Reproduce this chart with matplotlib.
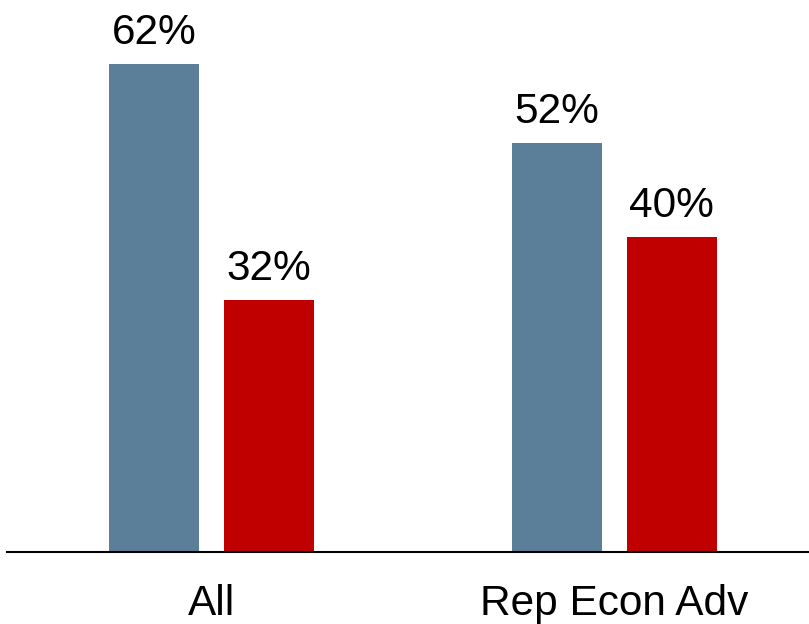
import matplotlib
matplotlib.use("Agg")
import matplotlib.pyplot as plt
import numpy as np

categories = ["All", "Rep Econ Adv"]
series_blue = [62, 52]
series_red = [32, 40]
blue = "#5B7F98"
red = "#C00000"

plt.rcParams['font.family'] = ['Liberation Sans', 'DejaVu Sans']

fig = plt.figure(figsize=(8.09, 6.24), dpi=100)
ax = fig.add_axes([7/809, 72/624, 1 - 7/809, 552/624])

x = np.arange(len(categories))
w = 0.223
off = 0.285 / 2
b1 = ax.bar(x - off, series_blue, width=w, color=blue)
b2 = ax.bar(x + off, series_red, width=w, color=red)

for bars, vals in ((b1, series_blue), (b2, series_red)):
    for rect, v in zip(bars, vals):
        ax.annotate(f"{v}%", (rect.get_x() + rect.get_width() / 2, v),
                    xytext=(0, 14.4), textcoords="offset points",
                    ha="center", va="baseline", fontsize=30.5)

ax.set_xlim(-0.507, 1.483)
ax.set_ylim(0, 70.2)
ax.set_xticks(x)
ax.set_xticklabels(categories, fontsize=30.5)
ax.tick_params(axis="x", length=0, pad=23)
ax.set_yticks([])
for s in ("top", "right", "left"):
    ax.spines[s].set_visible(False)
ax.spines["bottom"].set_linewidth(1.5)
ax.spines["bottom"].set_color("black")

fig.savefig("out.png", dpi=100)
